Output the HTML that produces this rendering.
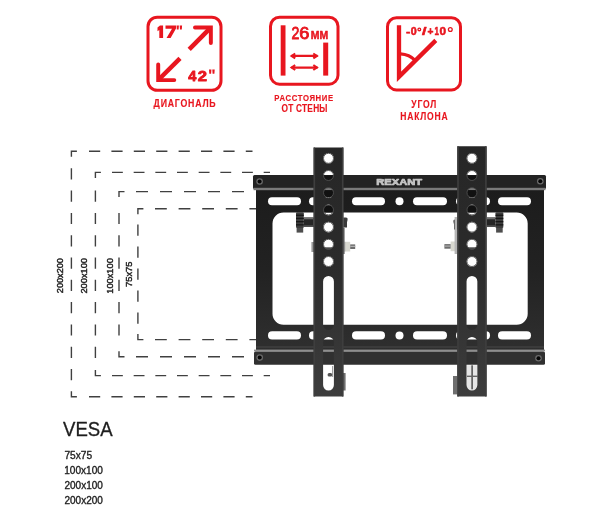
<!DOCTYPE html><html><head><meta charset="utf-8"><style>
html,body{margin:0;padding:0;background:#fff;}
body{width:600px;height:525px;overflow:hidden;position:relative;font-family:"Liberation Sans",sans-serif;}
svg{position:absolute;left:0;top:0;will-change:transform;}
</style></head><body>
<svg width="600" height="525" viewBox="0 0 600 525">
<defs><linearGradient id="ag" gradientUnits="userSpaceOnUse" x1="0" y1="147" x2="0" y2="397"><stop offset="0" stop-color="#262626"/><stop offset="0.45" stop-color="#2b2b2b"/><stop offset="1" stop-color="#3d3d3d"/></linearGradient><linearGradient id="fg" gradientUnits="userSpaceOnUse" x1="0" y1="189" x2="0" y2="350"><stop offset="0" stop-color="#1c1c1c"/><stop offset="0.5" stop-color="#222"/><stop offset="1" stop-color="#2f2f2f"/></linearGradient></defs>
<path d="M76.90 151.30H71.40V156.80 M76.90 396.70H71.40V391.20 M89.00 151.30H100.20 M111.40 151.30H122.60 M133.80 151.30H145.00 M156.20 151.30H167.40 M178.60 151.30H189.80 M201.00 151.30H212.20 M223.40 151.30H234.60 M245.80 151.30H252.50 M89.00 396.70H100.20 M111.40 396.70H122.60 M133.80 396.70H145.00 M156.20 396.70H167.40 M178.60 396.70H189.80 M201.00 396.70H212.20 M223.40 396.70H234.60 M245.80 396.70H252.50 M71.40 168.30V179.50 M71.40 190.60V201.80 M71.40 212.90V224.10 M71.40 235.20V246.40 M71.40 257.50V268.70 M71.40 279.80V291.00 M71.40 302.10V313.30 M71.40 324.40V335.60 M71.40 346.70V357.90 M71.40 369.00V380.20 M100.90 172.40H95.40V177.90 M100.90 375.60H95.40V370.10 M112.00 172.40H122.84 M133.67 172.40H144.51 M155.34 172.40H166.18 M177.01 172.40H187.85 M198.68 172.40H209.52 M220.35 172.40H231.19 M242.02 172.40H252.86 M263.69 172.40H270.00 M112.00 375.60H122.84 M133.67 375.60H144.51 M155.34 375.60H166.18 M177.01 375.60H187.85 M198.68 375.60H209.52 M220.35 375.60H231.19 M242.02 375.60H252.86 M263.69 375.60H270.00 M95.40 190.60V201.80 M95.40 212.90V224.10 M95.40 235.20V246.40 M95.40 257.50V268.70 M95.40 279.80V291.00 M95.40 302.10V313.30 M95.40 324.40V335.60 M95.40 346.70V357.90 M124.50 191.60H119.00V197.10 M124.50 356.80H119.00V351.30 M136.00 191.60H148.00 M160.00 191.60H172.00 M184.00 191.60H196.00 M208.00 191.60H220.00 M232.00 191.60H244.00 M136.00 356.80H148.00 M160.00 356.80H172.00 M184.00 356.80H196.00 M208.00 356.80H220.00 M232.00 356.80H244.00 M119.00 212.90V224.10 M119.00 235.20V246.40 M119.00 257.50V268.70 M119.00 279.80V291.00 M119.00 302.10V313.30 M119.00 324.40V335.60 M143.40 208.80H137.90V214.30 M143.40 339.60H137.90V334.10 M155.00 208.80H166.80 M178.60 208.80H190.40 M202.20 208.80H214.00 M225.80 208.80H237.60 M249.40 208.80H256.00 M155.00 339.60H166.80 M178.60 339.60H190.40 M202.20 339.60H214.00 M225.80 339.60H237.60 M249.40 339.60H256.00 M137.90 224.50V235.70 M137.90 246.50V257.70 M137.90 268.50V279.70 M137.90 290.50V301.70 M137.90 312.50V323.70" fill="none" stroke="#404040" stroke-width="1.4"/>
<g transform="translate(56.20 292.90) rotate(-90)"><text transform="translate(-0.24 6.87) scale(0.9624 1)" font-size="9.52" fill="#222" stroke="#222" stroke-width="0.45" stroke-linejoin="round">200x200</text></g>
<g transform="translate(80.50 293.30) rotate(-90)"><text transform="translate(-0.24 6.87) scale(0.9736 1)" font-size="9.52" fill="#222" stroke="#222" stroke-width="0.45" stroke-linejoin="round">200x100</text></g>
<g transform="translate(105.80 293.30) rotate(-90)"><text transform="translate(-0.48 7.18) scale(0.9327 1)" font-size="9.95" fill="#222" stroke="#222" stroke-width="0.45" stroke-linejoin="round">100x100</text></g>
<g transform="translate(125.30 286.70) rotate(-90)"><text transform="translate(-0.25 7.07) scale(0.9510 1)" font-size="9.81" fill="#222" stroke="#222" stroke-width="0.45" stroke-linejoin="round">75x75</text></g>
<path d="M256 189H544V350H256Z M283.5 212.5H516.7A11 11 0 0 1 527.7 223.5V313.7A11 11 0 0 1 516.7 324.7H283.5A11 11 0 0 1 272.5 313.7V223.5A11 11 0 0 1 283.5 212.5Z" fill="url(#fg)" fill-rule="evenodd"/>
<rect x="268" y="197.3" width="33" height="7.90" rx="3.95" fill="#fff"/><rect x="268" y="331.3" width="33" height="8.20" rx="4.10" fill="#fff"/><rect x="309" y="197.3" width="34" height="7.90" rx="3.95" fill="#fff"/><rect x="309" y="331.3" width="34" height="8.20" rx="4.10" fill="#fff"/><rect x="352" y="197.3" width="33" height="7.90" rx="3.95" fill="#fff"/><rect x="352" y="331.3" width="33" height="8.20" rx="4.10" fill="#fff"/><rect x="413" y="197.3" width="34" height="7.90" rx="3.95" fill="#fff"/><rect x="413" y="331.3" width="34" height="8.20" rx="4.10" fill="#fff"/><rect x="456" y="197.3" width="34" height="7.90" rx="3.95" fill="#fff"/><rect x="456" y="331.3" width="34" height="8.20" rx="4.10" fill="#fff"/><rect x="498" y="197.3" width="33" height="7.90" rx="3.95" fill="#fff"/><rect x="498" y="331.3" width="33" height="8.20" rx="4.10" fill="#fff"/>
<circle cx="399.5" cy="201.3" r="4" fill="#fff"/>
<circle cx="399.5" cy="335.4" r="4" fill="#fff"/>
<rect x="253" y="175" width="293" height="14" rx="1.5" fill="#232323"/>
<rect x="253.5" y="187.8" width="292" height="2.4" fill="#7a7a7a"/>
<circle cx="259.6" cy="181.5" r="3.3" fill="#6a6a6a"/><circle cx="259.6" cy="181.5" r="2" fill="#050505"/>
<circle cx="540.3" cy="181.3" r="3.3" fill="#6a6a6a"/><circle cx="540.3" cy="181.3" r="2" fill="#050505"/>
<text transform="translate(376.30 184.65) scale(1.3233 1)" font-size="8.43" font-weight="bold" fill="#c4c4c4" stroke="#c4c4c4" stroke-width="0.7" stroke-linejoin="round">REXANT</text>
<rect x="256" y="346.4" width="288" height="1.2" fill="#444"/>
<rect x="254" y="349.6" width="291" height="1.8" fill="#8e8e8e"/>
<rect x="254" y="351.4" width="291" height="13.3" rx="1.5" fill="#303030"/>
<circle cx="259.7" cy="357.6" r="3.3" fill="#6a6a6a"/><circle cx="259.7" cy="357.6" r="2" fill="#050505"/>
<circle cx="538.5" cy="358.3" r="3.3" fill="#6a6a6a"/><circle cx="538.5" cy="358.3" r="2" fill="#050505"/>
<rect x="303.7" y="217.4" width="10.00" height="9.6" fill="#252525"/><rect x="303.7" y="218" width="10.00" height="1.3" fill="#6e6e6e"/><rect x="303.7" y="225.3" width="10.00" height="1.6" fill="#555"/><rect x="296.0" y="212.3" width="7.8" height="15.8" rx="1" fill="#3d3d3d"/><rect x="296.0" y="214.6" width="7.8" height="1.3" fill="#161616"/><rect x="296.0" y="217.8" width="7.8" height="1.3" fill="#161616"/><rect x="296.0" y="221.0" width="7.8" height="1.3" fill="#161616"/><rect x="296.0" y="224.2" width="7.8" height="1.3" fill="#161616"/><rect x="296.60" y="228" width="6.6" height="4.6" fill="#4e4e4e"/>
<rect x="487.0" y="217.4" width="8.50" height="9.6" fill="#252525"/><rect x="487.0" y="218" width="8.50" height="1.3" fill="#6e6e6e"/><rect x="487.0" y="225.3" width="8.50" height="1.6" fill="#555"/><rect x="495.5" y="212.3" width="7.8" height="15.8" rx="1" fill="#3d3d3d"/><rect x="495.5" y="214.6" width="7.8" height="1.3" fill="#161616"/><rect x="495.5" y="217.8" width="7.8" height="1.3" fill="#161616"/><rect x="495.5" y="221.0" width="7.8" height="1.3" fill="#161616"/><rect x="495.5" y="224.2" width="7.8" height="1.3" fill="#161616"/><rect x="496.10" y="228" width="6.6" height="4.6" fill="#4e4e4e"/>
<path d="M343.4 217.5h2.6q2 0 1.6 2.2l-0.6 2.5v5.3h-3.6Z" fill="#3a3a3a"/>
<path d="M457.6 219.5h-2.6q-2 0 -1.6 2.2l0.6 2.5v5.3h3.6Z" fill="#3a3a3a"/>
<rect x="344" y="241.8" width="6.2" height="9.7" fill="#d8d8d0"/><rect x="344" y="241.8" width="1.2" height="9.7" fill="#999"/><rect x="350.2" y="244.4" width="5" height="4.6" fill="#6d6d6d"/><rect x="350.2" y="245.8" width="5" height="1.2" fill="#b0b0b0"/>
<rect x="450.6" y="241.5" width="6.2" height="9.7" fill="#d8d8d0"/><rect x="455.6" y="241.5" width="1.2" height="9.7" fill="#999"/><rect x="444.4" y="244.1" width="6.2" height="4.6" fill="#6d6d6d"/><rect x="444.4" y="245.5" width="6.2" height="1.2" fill="#b0b0b0"/>
<rect x="467" y="365.3" width="10.5" height="26" fill="#e6e6e6"/><rect x="471.4" y="365.3" width="1.4" height="24" fill="#444"/><rect x="467" y="375.6" width="10.5" height="1.4" fill="#666"/>
<rect x="332.2" y="366" width="0.9" height="11" fill="#888"/>
<rect x="453" y="376" width="4.4" height="18.4" fill="#6f6f6f"/>
<rect x="343" y="373" width="2.6" height="17.5" fill="#6f6f6f"/>
<defs><clipPath id="hc"><rect x="250" y="175.5" width="300" height="12.3"/><rect x="250" y="190.2" width="300" height="22.3"/></clipPath></defs>
<g clip-path="url(#hc)" fill="#111"><circle cx="328.5" cy="175.50" r="4.6"/><circle cx="328.5" cy="192.70" r="4.6"/><circle cx="328.5" cy="209.90" r="4.6"/><circle cx="471.95" cy="175.50" r="4.6"/><circle cx="471.95" cy="192.70" r="4.6"/><circle cx="471.95" cy="209.90" r="4.6"/></g>
<rect x="319" y="247.3" width="18" height="6" fill="#4a4a4a"/><rect x="463.5" y="247.3" width="18" height="6" fill="#4a4a4a"/>
<rect x="454.6" y="217" width="2.4" height="37" fill="#b5b5b5"/>
<rect x="343" y="228" width="1.8" height="26" fill="#8a8a8a"/>
<rect x="311.4" y="242" width="2.6" height="10" fill="#9a9a9a"/>
<path d="M313.7 147.4H343.3V396.6H313.7Z M323.20 158.30a5.3 5.3 0 1 0 10.60 0a5.3 5.3 0 1 0 -10.60 0Z M323.20 175.50a5.3 5.3 0 1 0 10.60 0a5.3 5.3 0 1 0 -10.60 0Z M323.20 192.70a5.3 5.3 0 1 0 10.60 0a5.3 5.3 0 1 0 -10.60 0Z M323.20 209.90a5.3 5.3 0 1 0 10.60 0a5.3 5.3 0 1 0 -10.60 0Z M323.20 227.10a5.3 5.3 0 1 0 10.60 0a5.3 5.3 0 1 0 -10.60 0Z M323.20 244.30a5.3 5.3 0 1 0 10.60 0a5.3 5.3 0 1 0 -10.60 0Z M323.20 261.50a5.3 5.3 0 1 0 10.60 0a5.3 5.3 0 1 0 -10.60 0Z M323.10 281.40a5.4 5.4 0 0 1 10.80 0V324.60a5.4 5.4 0 0 1 -10.80 0Z M323.10 342.40a5.4 5.4 0 0 1 10.80 0V385.10a5.4 5.4 0 0 1 -10.80 0Z" fill="url(#ag)" fill-rule="evenodd"/><path d="M314.3 147.4V396.6 M342.7 147.4V396.6" stroke="#3e3e3e" stroke-width="1.6"/><circle cx="328.50" cy="158.30" r="5.0" fill="none" stroke="#4e4e4e" stroke-width="0.9"/><circle cx="328.50" cy="175.50" r="5.0" fill="none" stroke="#4e4e4e" stroke-width="0.9"/><circle cx="328.50" cy="192.70" r="5.0" fill="none" stroke="#4e4e4e" stroke-width="0.9"/><circle cx="328.50" cy="209.90" r="5.0" fill="none" stroke="#4e4e4e" stroke-width="0.9"/><circle cx="328.50" cy="227.10" r="5.0" fill="none" stroke="#4e4e4e" stroke-width="0.9"/><circle cx="328.50" cy="244.30" r="5.0" fill="none" stroke="#4e4e4e" stroke-width="0.9"/><circle cx="328.50" cy="261.50" r="5.0" fill="none" stroke="#4e4e4e" stroke-width="0.9"/>
<path d="M457.4 146.3H486.5V396.6H457.4Z M466.65 158.30a5.3 5.3 0 1 0 10.60 0a5.3 5.3 0 1 0 -10.60 0Z M466.65 175.50a5.3 5.3 0 1 0 10.60 0a5.3 5.3 0 1 0 -10.60 0Z M466.65 192.70a5.3 5.3 0 1 0 10.60 0a5.3 5.3 0 1 0 -10.60 0Z M466.65 209.90a5.3 5.3 0 1 0 10.60 0a5.3 5.3 0 1 0 -10.60 0Z M466.65 227.10a5.3 5.3 0 1 0 10.60 0a5.3 5.3 0 1 0 -10.60 0Z M466.65 244.30a5.3 5.3 0 1 0 10.60 0a5.3 5.3 0 1 0 -10.60 0Z M466.65 261.50a5.3 5.3 0 1 0 10.60 0a5.3 5.3 0 1 0 -10.60 0Z M466.55 281.40a5.4 5.4 0 0 1 10.80 0V324.60a5.4 5.4 0 0 1 -10.80 0Z M466.55 342.40a5.4 5.4 0 0 1 10.80 0V385.10a5.4 5.4 0 0 1 -10.80 0Z" fill="url(#ag)" fill-rule="evenodd"/><path d="M458.0 146.3V396.6 M485.9 146.3V396.6" stroke="#3e3e3e" stroke-width="1.6"/><circle cx="471.95" cy="158.30" r="5.0" fill="none" stroke="#4e4e4e" stroke-width="0.9"/><circle cx="471.95" cy="175.50" r="5.0" fill="none" stroke="#4e4e4e" stroke-width="0.9"/><circle cx="471.95" cy="192.70" r="5.0" fill="none" stroke="#4e4e4e" stroke-width="0.9"/><circle cx="471.95" cy="209.90" r="5.0" fill="none" stroke="#4e4e4e" stroke-width="0.9"/><circle cx="471.95" cy="227.10" r="5.0" fill="none" stroke="#4e4e4e" stroke-width="0.9"/><circle cx="471.95" cy="244.30" r="5.0" fill="none" stroke="#4e4e4e" stroke-width="0.9"/><circle cx="471.95" cy="261.50" r="5.0" fill="none" stroke="#4e4e4e" stroke-width="0.9"/>
<rect x="327.6" y="373" width="4.6" height="3.6" rx="1.5" fill="#555"/>
<g fill="none" stroke="#e8161f" stroke-width="3">
<rect x="148" y="17.2" width="73" height="73.1" rx="9.2"/>
<rect x="270.5" y="17.2" width="67.5" height="67" rx="9"/>
<rect x="387.5" y="17.7" width="73" height="72.2" rx="9"/>
</g>
<g fill="none" stroke="#e8161f" stroke-width="3.95" stroke-linejoin="miter" stroke-linecap="round">
<path d="M195.0 27.55H210.85V43.05"/>
<path d="M158.2 64.4V80.1H174.3"/>
</g>
<g fill="none" stroke="#e8161f" stroke-width="4.5">
<path d="M210.0 28.4L189.2 49.4"/>
<path d="M158.8 79.5L180.0 58.3"/>
</g>
<path d="M157.5 27.6L160.0 25.6H163.1V38.0H159.3V30.0L157.5 31.2Z" fill="#e8161f"/>
<path d="M165.5 25.6H176.0V28.6L170.6 38.0H166.5L172.0 28.8H165.5Z" fill="#e8161f"/>
<path d="M176.5 25.6H178.9L178.6 29.6H176.8Z M179.7 25.6H182.1L181.8 29.6H180.0Z" fill="#e8161f"/>
<text transform="translate(188.23 80.75) scale(0.9541 1)" font-size="15.26" font-weight="bold" fill="#e8161f" stroke="#e8161f" stroke-width="0.9" stroke-linejoin="round">4</text>
<text transform="translate(197.87 80.75) scale(1.0843 1)" font-size="15.32" font-weight="bold" fill="#e8161f" stroke="#e8161f" stroke-width="0.9" stroke-linejoin="round">2</text>
<path d="M209.0 69.6H211.4L211.1 73.8H209.3Z M212.3 69.6H214.7L214.4 73.8H212.6Z" fill="#e8161f"/>
<g fill="#e8161f">
<rect x="280.7" y="25.3" width="4.8" height="50.3"/>
<rect x="323.2" y="42.6" width="5" height="33"/>
</g>
<text transform="translate(291.44 38.50) scale(0.8596 1)" font-size="16.47" fill="#e8161f" stroke="#e8161f" stroke-width="0.8" stroke-linejoin="round">2</text>
<text transform="translate(299.28 38.50) scale(1.1053 1)" font-size="16.47" fill="#e8161f" stroke="#e8161f" stroke-width="0.8" stroke-linejoin="round">6</text>
<text transform="translate(310.85 38.65) scale(0.9453 1)" font-size="11.05" font-weight="bold" fill="#e8161f" stroke="#e8161f" stroke-width="0.5" stroke-linejoin="round">ММ</text>
<g fill="none" stroke="#e8161f" stroke-width="2.2"><path d="M291.5 55.9H317.5 M291.5 67.6H317.5"/></g>
<g fill="none" stroke="#e8161f" stroke-width="2.1" stroke-linejoin="miter" stroke-miterlimit="10"><path d="M295.2 53.5L291.6 55.9L295.2 58.3 M313.3 53.5L316.9 55.9L313.3 58.3 M295.2 65.2L291.6 67.6L295.2 70.0 M313.3 65.2L316.9 67.6L313.3 70.0"/></g>
<g fill="none" stroke="#e8161f" stroke-width="4.3" stroke-miterlimit="10"><path d="M399 25.2V76.8 L435.8 40.4"/></g>
<g fill="none" stroke="#e8161f" stroke-width="3.2"><path d="M400.5 53.9A23 23 0 0 1 415.5 60.6"/></g>
<text transform="translate(405.94 34.55) scale(1.2964 1)" font-size="10.03" font-weight="bold" fill="#e8161f" stroke="#e8161f" stroke-width="0.5" stroke-linejoin="round">-</text><text transform="translate(410.73 34.55) scale(1.0697 1)" font-size="10.03" font-weight="bold" fill="#e8161f" stroke="#e8161f" stroke-width="0.5" stroke-linejoin="round">0</text><text transform="translate(422.09 34.55) scale(1.6219 1)" font-size="10.03" font-weight="bold" fill="#e8161f" stroke="#e8161f" stroke-width="0.5" stroke-linejoin="round">/</text><text transform="translate(427.52 34.55) scale(1.0145 1)" font-size="10.03" font-weight="bold" fill="#e8161f" stroke="#e8161f" stroke-width="0.5" stroke-linejoin="round">+</text><text transform="translate(434.45 34.55) scale(0.7931 1)" font-size="10.03" font-weight="bold" fill="#e8161f" stroke="#e8161f" stroke-width="0.5" stroke-linejoin="round">1</text><text transform="translate(439.58 34.55) scale(1.1745 1)" font-size="10.03" font-weight="bold" fill="#e8161f" stroke="#e8161f" stroke-width="0.5" stroke-linejoin="round">0</text>
<g fill="none" stroke="#e8161f" stroke-width="1.3"><circle cx="419.3" cy="29.4" r="1.35"/><circle cx="450.3" cy="29.5" r="1.9"/></g>
<text transform="translate(153.60 107.22) scale(0.8000 1)" font-size="10.97" font-weight="bold" letter-spacing="0.981" fill="#e8161f" stroke="#e8161f" stroke-width="0.15" stroke-linejoin="round">ДИАГОНАЛЬ</text>
<text transform="translate(274.36 101.22) scale(0.8000 1)" font-size="9.67" font-weight="bold" letter-spacing="0.787" fill="#e8161f" stroke="#e8161f" stroke-width="0.15" stroke-linejoin="round">РАССТОЯНИЕ</text>
<text transform="translate(281.53 111.62) scale(0.8000 1)" font-size="10.39" font-weight="bold" letter-spacing="0.289" fill="#e8161f" stroke="#e8161f" stroke-width="0.15" stroke-linejoin="round">ОТ СТЕНЫ</text>
<text transform="translate(411.27 107.52) scale(0.8000 1)" font-size="10.68" font-weight="bold" letter-spacing="1.091" fill="#e8161f" stroke="#e8161f" stroke-width="0.15" stroke-linejoin="round">УГОЛ</text>
<text transform="translate(400.20 119.52) scale(0.8000 1)" font-size="10.68" font-weight="bold" letter-spacing="1.041" fill="#e8161f" stroke="#e8161f" stroke-width="0.15" stroke-linejoin="round">НАКЛОНА</text>
<text transform="translate(62.99 435.52) scale(0.8813 1)" font-size="21.12" fill="#1e1e1e" stroke="#1e1e1e" stroke-width="0.35" stroke-linejoin="round">VESA</text>
<text transform="translate(64.45 459.22) scale(1.0068 1)" font-size="10.10" fill="#222" stroke="#222" stroke-width="0.35" stroke-linejoin="round">75x75</text>
<text transform="translate(64.21 474.02) scale(0.9993 1)" font-size="10.10" fill="#222" stroke="#222" stroke-width="0.35" stroke-linejoin="round">100x100</text>
<text transform="translate(64.47 488.82) scale(0.9924 1)" font-size="10.10" fill="#222" stroke="#222" stroke-width="0.35" stroke-linejoin="round">200x100</text>
<text transform="translate(64.47 503.62) scale(0.9924 1)" font-size="10.10" fill="#222" stroke="#222" stroke-width="0.35" stroke-linejoin="round">200x200</text>
</svg></body></html>
